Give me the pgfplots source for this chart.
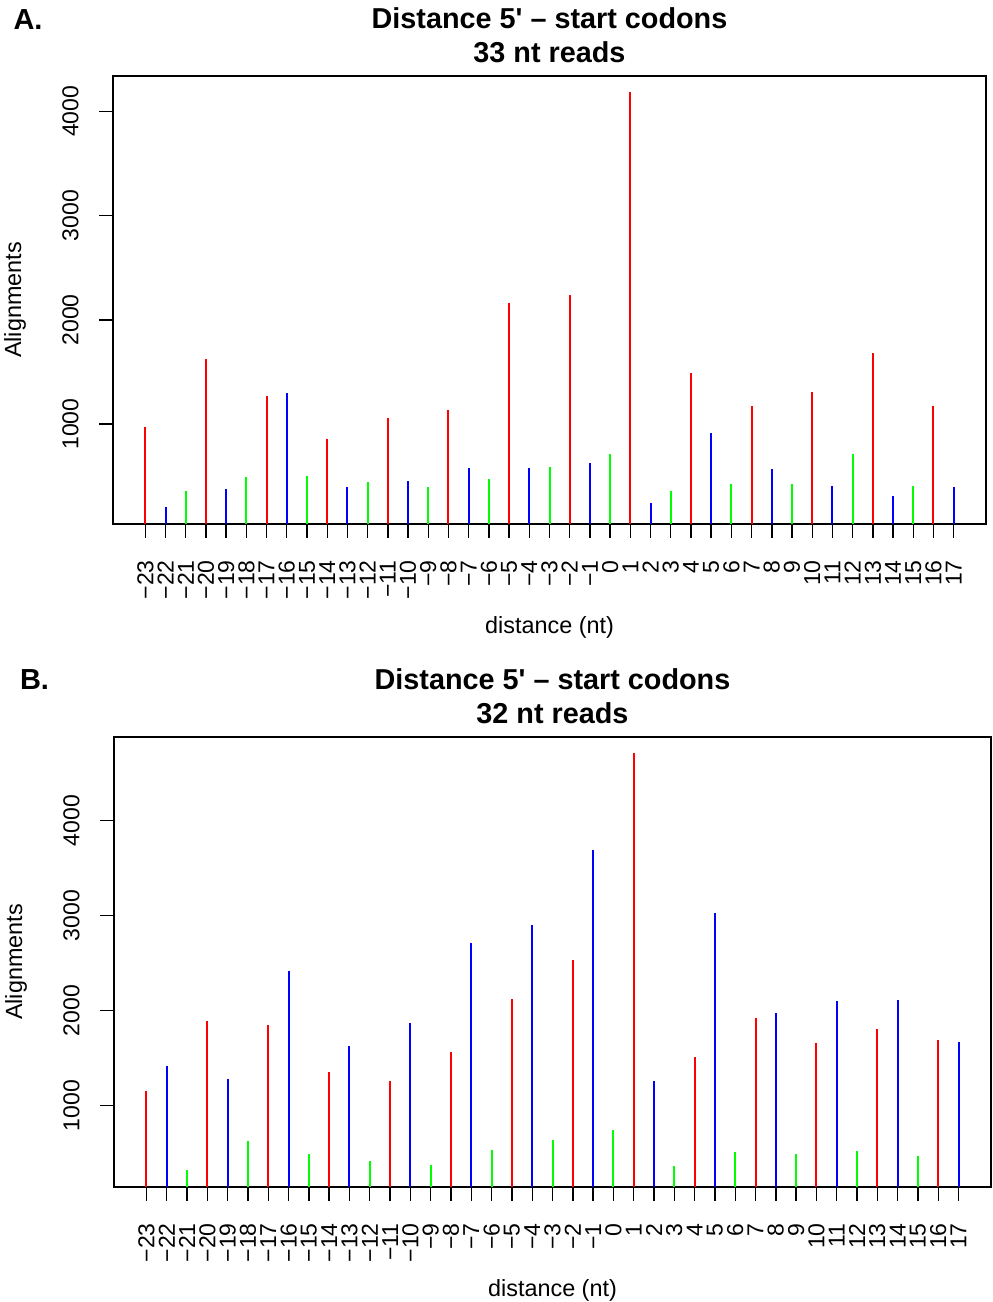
\documentclass[border=0pt]{standalone}
\usepackage{fontspec}
\setmainfont{Liberation Sans}
\usepackage{pgfplots}
\pgfplotsset{compat=1.18}
\definecolor{rred}{RGB}{255,0,0}
\definecolor{rblue}{RGB}{0,0,255}
\definecolor{rgreen}{RGB}{0,255,0}
\pgfplotsset{
  rplot/.style={
    scale only axis,
    xmin=-24.6, xmax=18.6,
    axis line style={line width=0.8pt},
    tick style={line width=0.7pt, black},
    tick align=outside,
    major tick length=7pt,
    xtick pos=bottom, ytick pos=left,
    xtick={-23,...,17},
    xticklabels={−23,−22,−21,−20,−19,−18,−17,−16,−15,−14,−13,−12,−11,−10,−9,−8,−7,−6,−5,−4,−3,−2,−1,0,1,2,3,4,5,6,7,8,9,10,11,12,13,14,15,16,17},
    ytick={1000,2000,3000,4000},
    yticklabels={1000,2000,3000,4000},
    tick label style={font=\fontsize{11.5}{14}\selectfont},
    xticklabel style={rotate=90, anchor=east, inner sep=0pt},
    xticklabel shift=11pt,
    yticklabel style={rotate=90, anchor=south, inner sep=0pt},
    yticklabel shift=10pt,
    xlabel={distance (nt)},
    ylabel={Alignments},
    label style={font=\fontsize{11.7}{14}\selectfont},
    xlabel style={at={([yshift=-51.5pt]rel axis cs:0.5,0)}, anchor=center},
    ylabel style={at={([xshift=-49pt]rel axis cs:0,0.5)}, anchor=center},
    title style={at={([yshift=14.5pt]rel axis cs:0.5,1)}, anchor=center, align=center, font=\bfseries\fontsize{14.4}{17}\selectfont},
    every axis plot/.append style={ycomb, no marks, line width=1pt},
  }
}
\begin{document}
\begin{tikzpicture}
\useasboundingbox (0,0) rectangle (496pt,651pt);
\begin{axis}[rplot, at={(56.5pt,389pt)}, anchor=south west,
  width=436.5pt, height=224pt, ymin=43, ymax=4339,
  title={Distance 5\textquotesingle{} – start codons\\33 nt reads}]
\addplot[rred] coordinates {(-23,974) (-20,1629) (-17,1268) (-14,859) (-11,1063) (-8,1137) (-5,2166) (-2,2237) (1,4186) (4,1495) (7,1175) (10,1307) (13,1687) (16,1175)};
\addplot[rblue] coordinates {(-22,210) (-19,383) (-16,1300) (-13,399) (-10,456) (-7,581) (-4,581) (-1,629) (2,242) (5,920) (8,568) (11,408) (14,310) (17,399)};
\addplot[rgreen] coordinates {(-21,357) (-18,495) (-15,504) (-12,444) (-9,396) (-6,475) (-3,594) (0,718) (3,360) (6,431) (9,428) (12,715) (15,405)};
\end{axis}
\begin{axis}[rplot, at={(57pt,57.5pt)}, anchor=south west,
  width=438.5pt, height=225pt, ymin=144, ymax=4881,
  title={Distance 5\textquotesingle{} – start codons\\32 nt reads}]
\addplot[rred] coordinates {(-23,1151) (-20,1892) (-17,1849) (-14,1355) (-11,1256) (-8,1568) (-5,2126) (-2,2534) (1,4709) (4,1512) (7,1926) (10,1660) (13,1811) (16,1695)};
\addplot[rblue] coordinates {(-22,1421) (-19,1284) (-16,2421) (-13,1632) (-10,1874) (-7,2716) (-4,2905) (-1,3695) (2,1256) (5,3032) (8,1976) (11,2102) (14,2116) (17,1671)};
\addplot[rgreen] coordinates {(-21,326) (-18,624) (-15,491) (-12,414) (-9,372) (-6,530) (-3,642) (0,747) (3,365) (6,516) (9,495) (12,526) (15,466)};
\end{axis}
\node[font=\bfseries\fontsize{14.5}{16}\selectfont] at (14pt,641pt) {A.};
\node[font=\bfseries\fontsize{14.5}{16}\selectfont] at (17.25pt,311pt) {B.};
\end{tikzpicture}
\end{document}
